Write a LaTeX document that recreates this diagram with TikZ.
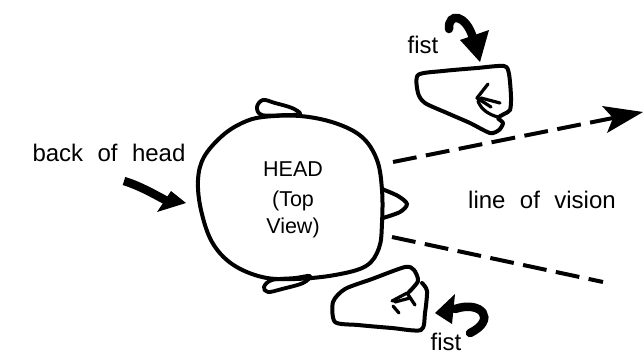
\documentclass[tikz,border=0pt]{standalone}
\usepackage{fontspec}
\setmainfont{Liberation Sans}
\newcommand{\wordgap}{\hspace{0.6em}}
\begin{document}
\begin{tikzpicture}[x=1pt,y=-1pt,
  outline/.style={line width=4pt, line join=round, line cap=round},
  finger/.style={line width=3.2pt, line join=round, line cap=round},
  sight/.style={line width=4pt, dash pattern=on 24pt off 9.5pt},
  curl/.style={line width=8.5pt, line cap=round},
  lbl/.style={font=\fontsize{24}{28}\selectfont, inner sep=0pt, anchor=base},
  headtxt/.style={font=\fontsize{21.5}{26}\selectfont, inner sep=0pt, anchor=base},
]
\useasboundingbox (0,0) rectangle (644,357);

% head outline, seen from above
\draw[outline] plot[smooth cycle, tension=0.6] coordinates {
  (263,117) (300,116) (335,123) (362,137) (377,160) (382,190) (382,223)
  (379,248) (366,266) (335,275) (295,279) (262,277) (232,264) (212,242)
  (201,210) (198,180) (204,157) (222,136) (242,123)};
% ears
\draw[outline, line width=3.8pt] plot[smooth cycle, tension=0.6] coordinates {
  (262,115) (257,107) (263,100) (275,103) (292,108) (300,114) (285,115)};
\draw[outline, line width=3.8pt] plot[smooth cycle, tension=0.6] coordinates {
  (272,280) (295,278) (310,276) (303,283) (282,289) (268,292) (264,287)};
% nose
\draw[outline] plot[smooth, tension=0.5] coordinates {
  (382,189) (398,196) (407,204) (400,212) (383,218)};

\node[headtxt] (headA) at (293,176) {HEAD};
\node[headtxt] (headB) at (293,206.5) {(Top};
\node[headtxt] (headC) at (293,233) {View)};

% lines of vision
\coordinate (eyeU) at (393,162);
\coordinate (notchU) at (613,118);
\coordinate (tipU) at (643,112);
\coordinate (eyeL) at (392,237);
\coordinate (endL) at (603,282);
\draw[sight] (eyeU) -- (notchU);
\fill (tipU) -- (602,106) -- (notchU) -- (607,133) -- cycle;
\draw[sight] (eyeL) -- (endL);
\node[lbl] (vision) at (542,208) {line\wordgap of\wordgap vision};

% back of head
\node[lbl] (back) at (109,161) {back\wordgap of\wordgap head};
\draw[curl, line cap=butt] (124,181) .. controls (140,186) and (152,193) .. (167,201);
\fill (186,203) -- (171,191) -- (157,212) -- cycle;

% upper fist
\draw[outline] plot[smooth cycle, tension=0.45] coordinates {
  (418,75) (443,71) (477,68) (504,66) (509,74) (511,97) (510,110)
  (504,114) (498,118) (503,123) (499,130) (490,133) (470,123)
  (447,113) (425,103) (418,93)};
\draw[finger] (488,84) -- (477,98) -- (491,107);
\draw[finger] (481,98) -- (500,103);
\draw[finger] (478,101) .. controls (481,110) and (490,115) .. (498,117);
\node[lbl] (fistU) at (423,53) {fist};
\draw[curl] (449,29) .. controls (448,12) and (466,14) .. (473,38);
\fill (480,62) -- (460,40) -- (489,30) -- cycle;

% lower fist
\draw[outline] plot[smooth, tension=0.45] coordinates {
  (409,292) (418,281) (414,270) (405,267) (372,279) (345,289) (333,302)
  (335,322) (358,325) (392,328) (421,330) (425,313) (427,291) (422,283)};
\draw[finger] (392,301) -- (407,293) -- (415,305);
\draw[finger] (395,302) -- (410,298);
\draw[finger] (393,306) -- (399,313);
\node[lbl] (fistL) at (446,350.5) {fist};
\draw[curl] (455,309) .. controls (482,300) and (497,320) .. (470,333);
\fill (435,313) -- (455,294) -- (452,324) -- cycle;
\end{tikzpicture}
\end{document}
